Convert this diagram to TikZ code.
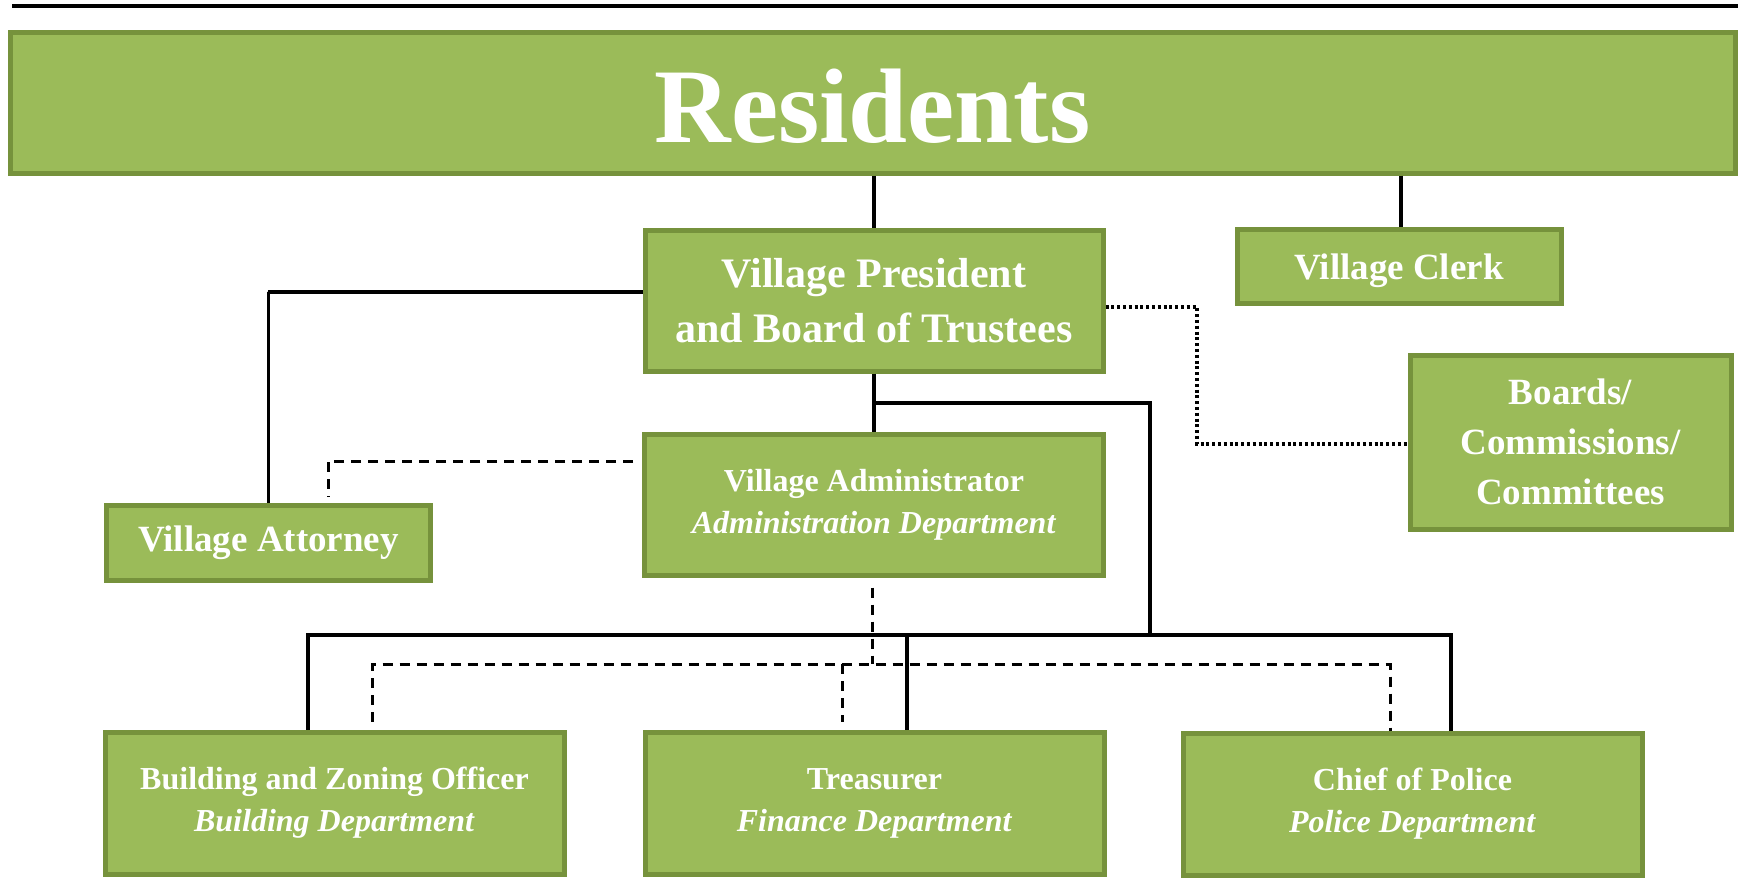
\documentclass[tikz,border=0pt]{standalone}
\usepackage{fontspec}
\setmainfont{Liberation Serif}
\usetikzlibrary{calc}
\definecolor{gfill}{HTML}{9BBB59}
\definecolor{gline}{HTML}{76923C}
\begin{document}
\begin{tikzpicture}[x=0.5pt,y=-0.5pt,
  gbox/.style={draw=gline, fill=gfill, line width=2.5pt, inner sep=0pt, text=white, align=center},
  fbig/.style={font=\fontsize{53}{60}\selectfont\bfseries},
  fvp/.style={font=\fontsize{21}{27.5}\selectfont\bfseries},
  fmid/.style={font=\fontsize{18.5}{25}\selectfont\bfseries},
  fsml/.style={font=\fontsize{16}{21}\selectfont\bfseries},
  conn/.style={line width=1.75pt, black},
  dashl/.style={line width=1.5pt, black, dash pattern=on 5pt off 3.5pt},
  dotl/.style={line width=1.7pt, black, dash pattern=on 1.5pt off 1.4pt}]
\useasboundingbox (0,0) rectangle (1738,880);

% top rule
\draw[line width=2pt] (12,6) -- (1738,6);

% boxes
\node[gbox, fbig, text height=41pt, minimum width=862.5pt, minimum height=70.5pt] (res) at (872.5,102.5) {Residents};
\node[gbox, fvp, minimum width=229pt, minimum height=70.5pt] (vp) at (874,300.5) {Village President\\and Board of Trustees};
\node[gbox, fmid, text height=17pt, text depth=4pt, minimum width=162pt, minimum height=37pt] (clerk) at (1399,266) {Village Clerk};
\node[gbox, fmid, minimum width=162pt, minimum height=37.5pt] (att) at (268.5,543) {Village Attorney};
\node[gbox, fsml, minimum width=229.5pt, minimum height=70.5pt] (va) at (874,504.5) {Village Administrator\\\textit{Administration Department}};
\node[gbox, fmid, minimum width=160.5pt, minimum height=87pt] (boards) at (1570.5,442) {Boards/\\Commissions/\\Committees};
\node[gbox, fsml, minimum width=229.5pt, minimum height=71pt] (bld) at (334.5,803) {Building and Zoning Officer\\\textit{Building Department}};
\node[gbox, fsml, minimum width=229.5pt, minimum height=71pt] (tre) at (874.5,803) {Treasurer\\\textit{Finance Department}};
\node[gbox, fsml, minimum width=229.5pt, minimum height=71pt] (chief) at (1412.5,804) {Chief of Police\\\textit{Police Department}};

% helper coordinates
\coordinate (a2) at (268,292);
\coordinate (a1) at (328,461);
\coordinate (b1) at (1150,403);
\coordinate (busV) at (1150,635);
\coordinate (busL) at (308,635);
\coordinate (busR) at (1451,635);
\coordinate (tdrop) at (907,635);
\coordinate (dL) at (372,664);
\coordinate (dR) at (1390,664);
\coordinate (dT) at (842,664);
\coordinate (k1) at (1197,307);
\coordinate (k2) at (1197,444);

% solid connectors
\draw[conn] (res.south -| vp.north) -- (vp.north);
\draw[conn] ($(res.south -| clerk.north)+(2,0)$) -- ($(clerk.north)+(2,0)$);
\draw[conn] (vp.west |- a2) -- (a2) -- (att.north |- a2) -- (att.north);
\draw[conn] (vp.south) -- (va.north);
\draw[conn] (vp.south |- b1) -- (b1) -- (busV);
\draw[conn] (bld.north -| busL) -- (busL) -- (busR) -- (chief.north -| busR);
\draw[conn] (tdrop) -- (tre.north -| tdrop);

% dashed connectors
\draw[dashl] ($(va.west |- a1)+(-9,0)$) -- (a1) -- ($(att.north -| a1)+(0,-6)$);
\draw[dashl] ($(va.south)+(-2,10)$) -- ($(va.south |- dL)+(-2,0)$);
\draw[dashl] ($(bld.north -| dL)+(0,-8)$) -- (dL) -- (dR) -- (chief.north -| dR);
\draw[dashl] (dT) -- ($(tre.north -| dT)+(0,-8)$);

% dotted connector
\draw[dotl] (vp.east |- k1) -- (k1) -- (k2) -- (boards.west |- k2);
\end{tikzpicture}
\end{document}
